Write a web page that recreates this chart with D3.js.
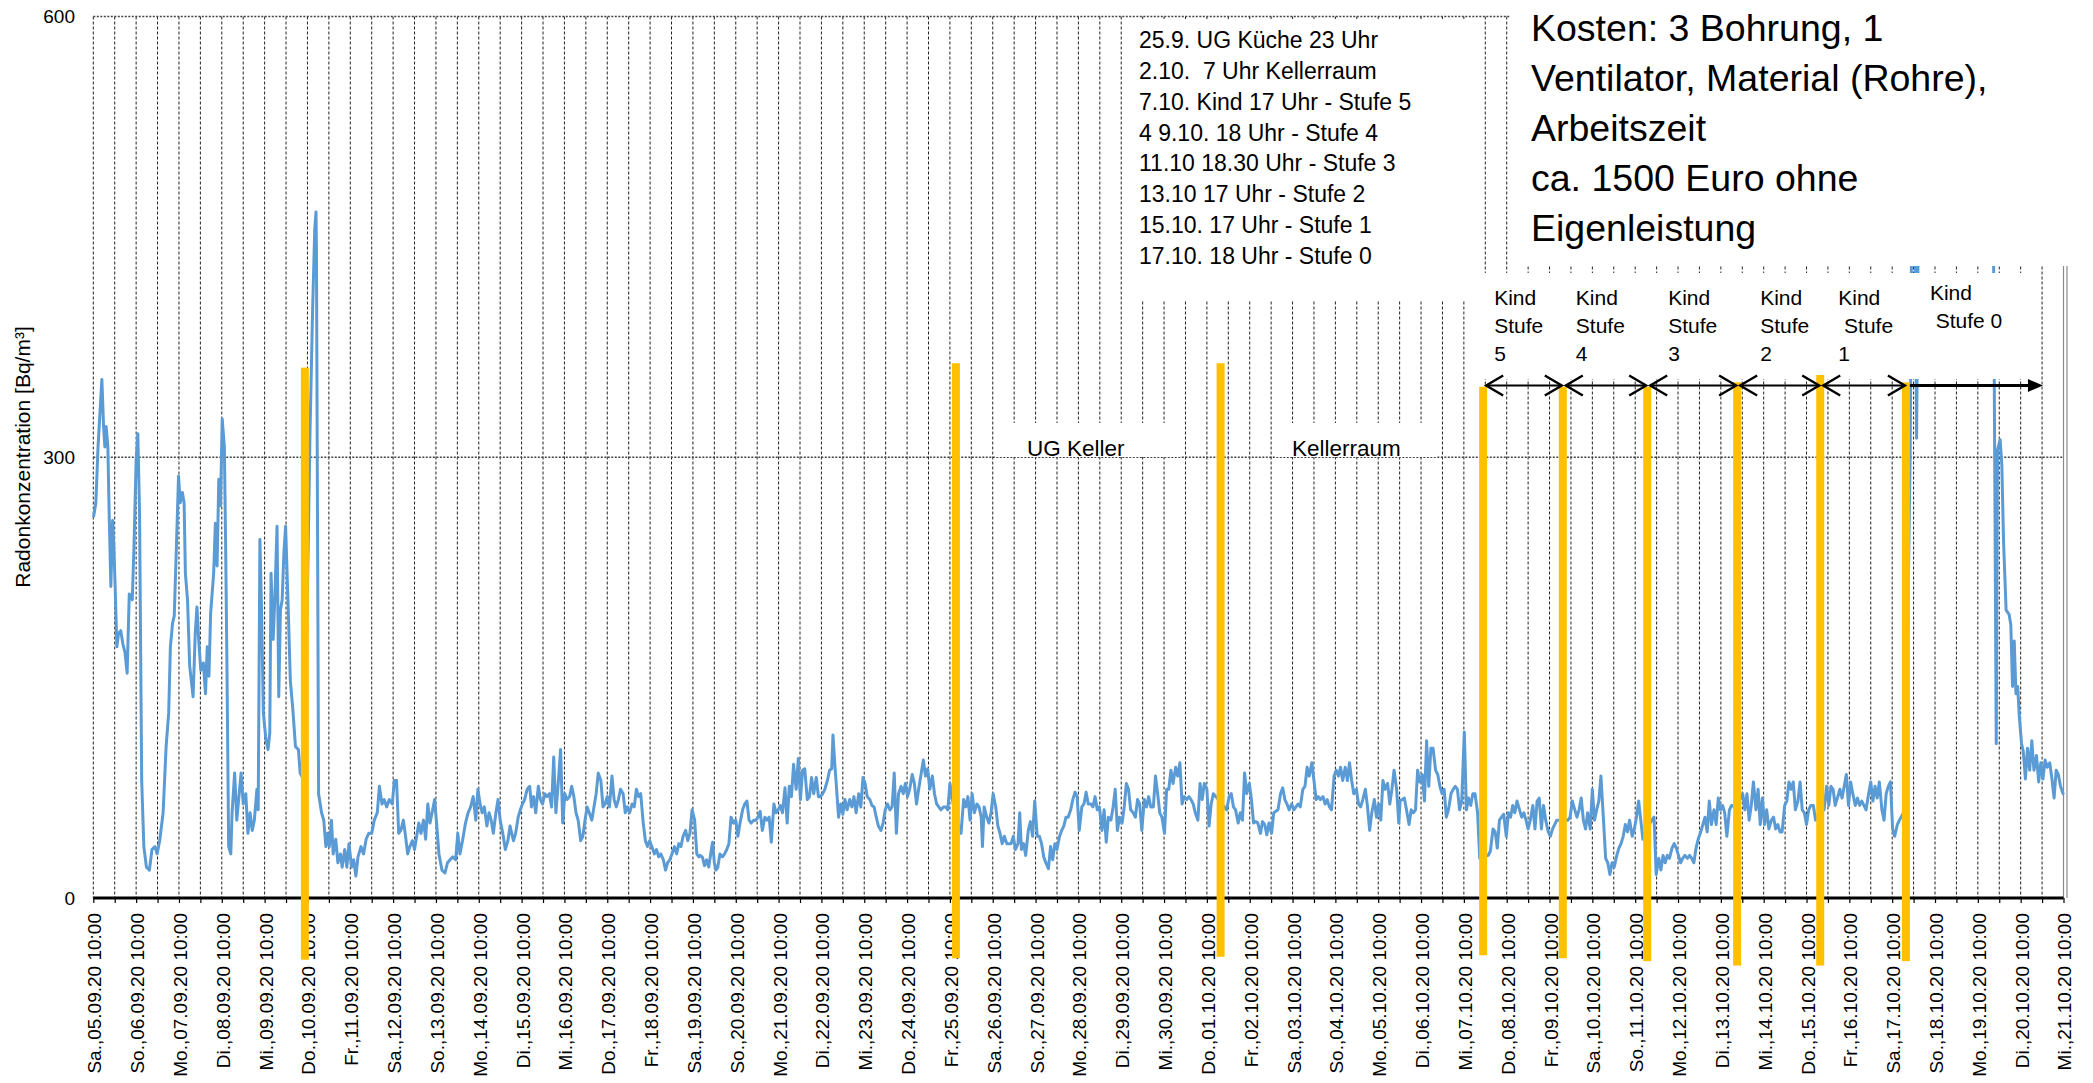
<!DOCTYPE html>
<html><head><meta charset="utf-8">
<script src="https://cdn.jsdelivr.net/npm/d3@7"></script>
<style>
html,body{margin:0;padding:0;background:#fff;}
svg{display:block;font-family:"Liberation Sans",Arial,sans-serif;}
text{white-space:pre;}
</style></head><body>
<svg id="chart" width="2093" height="1083"></svg>
<script>
// ---------------- DATA ----------------
const startUTC = Date.UTC(2020, 8, 5, 10, 0);   // Sa., 05.09.20 10:00
const endUTC   = Date.UTC(2020, 9, 21, 10, 0);  // Mi., 21.10.20 10:00
const weekdayShort = ["So.","Mo.","Di.","Mi.","Do.","Fr.","Sa."];
const yTicks = [0, 300, 600];
const yTitle = "Radonkonzentration [Bq/m³]";

// radon readings: [days since start, Bq/m³]
const radon = [
[0.01,260],[0.06,269],[0.11,307],[0.20,353],[0.24,321],[0.27,307],[0.30,321],[0.34,307],[0.37,262],[0.41,212],[0.45,257],[0.48,239],[0.51,212],[0.55,171],[0.59,180],[0.64,182],[0.69,173],[0.74,167],[0.79,153],[0.84,207],[0.91,203],[0.95,239],[1.00,298],[1.04,316],[1.08,262],[1.13,80],[1.18,35],[1.24,21],[1.31,19],[1.37,33],[1.44,35],[1.49,30],[1.55,39],[1.63,58],[1.70,103],[1.76,126],[1.80,171],[1.85,187],[1.89,192],[1.94,239],[1.99,287],[2.03,269],[2.08,276],[2.12,269],[2.15,221],[2.20,203],[2.25,158],[2.33,137],[2.38,180],[2.42,198],[2.46,176],[2.51,155],[2.57,160],[2.62,139],[2.66,171],[2.70,151],[2.74,194],[2.81,221],[2.85,255],[2.89,226],[2.93,285],[2.97,267],[3.01,326],[3.06,307],[3.09,239],[3.12,160],[3.16,35],[3.21,30],[3.24,58],[3.30,85],[3.35,53],[3.40,69],[3.45,85],[3.50,64],[3.56,71],[3.61,44],[3.66,58],[3.71,46],[3.76,53],[3.82,74],[3.85,60],[3.89,244],[3.93,194],[3.97,126],[4.03,108],[4.08,101],[4.12,112],[4.15,221],[4.20,176],[4.24,205],[4.29,253],[4.33,137],[4.37,196],[4.41,203],[4.45,235],[4.49,253],[4.55,198],[4.60,148],[4.66,128],[4.72,103],[4.79,101],[4.83,85],[4.92,80],[5.02,244],[5.06,317],[5.12,400],[5.17,455],[5.20,467],[5.21,440],[5.26,71],
[5.33,58],[5.38,53],[5.43,35],[5.46,44],[5.51,35],[5.56,53],[5.60,30],[5.66,40],[5.71,24],[5.77,30],[5.81,21],[5.87,33],[5.92,21],[5.97,37],[6.03,21],[6.08,26],[6.13,15],[6.18,28],[6.25,35],[6.31,30],[6.37,40],[6.43,44],[6.50,44],[6.56,53],[6.63,58],[6.68,76],[6.74,64],[6.79,67],[6.85,62],[6.91,67],[6.98,64],[7.03,80],[7.08,80],[7.13,44],[7.18,46],[7.24,53],[7.29,42],[7.34,30],[7.39,35],[7.45,39],[7.50,33],[7.55,42],[7.60,51],[7.65,44],[7.71,53],[7.76,40],[7.81,64],[7.86,51],[7.91,58],[7.97,67],[8.02,49],[8.07,30],[8.14,19],[8.21,17],[8.27,24],[8.33,26],[8.39,28],[8.46,26],[8.51,44],[8.56,30],[8.62,39],[8.69,51],[8.75,58],[8.81,62],[8.87,69],[8.93,53],[8.98,74],[9.03,64],[9.08,58],[9.13,62],[9.19,49],[9.24,58],[9.29,53],[9.34,44],[9.40,58],[9.45,67],[9.50,53],[9.56,44],[9.62,33],[9.68,39],[9.73,49],[9.81,39],[9.86,44],[9.92,55],[9.97,60],[10.02,64],[10.07,67],[10.13,74],[10.19,76],[10.23,62],[10.28,69],[10.33,58],[10.39,76],[10.44,67],[10.49,64],[10.54,71],[10.59,69],[10.65,71],[10.70,62],[10.75,96],[10.80,58],[10.85,76],[10.91,101],[10.96,51],[11.01,71],[11.06,67],[11.12,69],[11.17,76],[11.22,69],[11.27,58],[11.32,53],[11.38,39],[11.43,42],[11.48,53],[11.53,62],[11.58,58],[11.64,53],[11.69,62],[11.74,71],[11.79,85],[11.85,80],[11.90,62],[11.95,64],[12.00,69],[12.05,62],[12.11,83],[12.16,67],[12.21,62],[12.26,67],[12.31,74],[12.37,71],[12.42,58],[12.47,62],[12.52,58],[12.58,64],[12.63,62],[12.68,74],[12.73,69],[12.78,71],[12.84,51],[12.89,39],[12.94,35],[12.99,39],[13.04,35],[13.10,30],[13.15,33],[13.20,28],[13.25,30],[13.31,26],[13.36,19],[13.41,24],[13.46,26],[13.51,30],[13.57,35],[13.62,30],[13.67,37],[13.72,35],[13.77,42],[13.83,46],[13.88,39],[13.93,44],[13.98,60],[14.04,53],[14.09,30],[14.14,28],
[14.17,29],[14.22,28],[14.27,22],[14.32,26],[14.37,21],[14.43,33],[14.46,38],[14.50,24],[14.54,19],[14.58,21],[14.63,30],[14.69,28],[14.74,30],[14.79,33],[14.84,37],[14.89,55],[14.95,51],[15.00,53],[15.05,42],[15.10,51],[15.16,60],[15.21,64],[15.26,66],[15.31,53],[15.36,51],[15.42,53],[15.47,53],[15.52,55],[15.57,59],[15.62,46],[15.68,55],[15.73,53],[15.78,55],[15.83,38],[15.89,64],[15.94,58],[15.99,60],[16.04,63],[16.09,58],[16.15,75],[16.20,51],[16.25,76],[16.30,69],[16.35,91],[16.41,74],[16.46,95],[16.51,67],[16.56,87],[16.61,88],[16.67,67],[16.72,69],[16.77,82],[16.82,71],[16.88,82],[16.93,69],[16.98,69],[17.03,71],[17.08,74],[17.14,80],[17.19,87],[17.24,88],[17.27,111],[17.31,92],[17.34,80],[17.40,55],[17.45,64],[17.50,57],[17.55,67],[17.60,60],[17.66,67],[17.71,62],[17.76,69],[17.81,58],[17.87,71],[17.92,62],[17.97,82],[18.02,78],[18.07,69],[18.13,67],[18.18,63],[18.23,62],[18.28,55],[18.33,49],[18.39,46],[18.44,51],[18.49,60],[18.54,64],[18.60,60],[18.65,62],[18.70,85],[18.75,44],[18.80,71],[18.86,76],[18.91,71],[18.96,78],[19.01,69],[19.06,74],[19.12,84],[19.17,78],[19.22,64],[19.27,74],[19.32,83],[19.38,94],[19.43,83],[19.48,88],[19.53,74],[19.59,83],[19.64,71],[19.69,64],[19.74,62],[19.79,60],[19.85,62],[19.90,62],[19.95,60],[20.00,78],[20.10,60],[20.26,44],[20.32,67],[20.37,62],[20.42,69],[20.47,53],[20.52,71],[20.57,58],[20.63,64],[20.68,62],[20.73,55],[20.76,35],[20.80,62],[20.86,55],[20.91,51],[20.96,58],[21.01,71],[21.07,62],[21.12,49],[21.17,44],[21.22,37],[21.27,42],[21.33,37],[21.38,37],[21.43,37],[21.48,42],[21.53,33],[21.59,37],[21.63,58],[21.67,33],[21.72,37],[21.77,29],[21.83,46],[21.88,52],[21.93,42],[21.98,66],[22.04,42],[22.09,42],[22.14,37],[22.19,28],[22.24,24],[22.30,20],[22.35,35],[22.40,26],[22.45,37],[22.50,33],[22.56,42],[22.61,46],[22.66,49],[22.71,55],[22.76,55],[22.82,60],[22.87,67],[22.92,72],[22.97,69],[23.02,46],[23.08,62],[23.13,64],[23.18,72],[23.23,64],[23.29,64],[23.34,62],[23.39,69],[23.44,60],[23.49,62],[23.55,46],[23.60,60],[23.65,38],[23.70,55],[23.76,53],[23.81,62],[23.86,74],[23.91,46],[23.96,55],[24.02,51],[24.07,62],[24.12,78],[24.17,74],[24.22,60],[24.28,58],[24.33,55],[24.38,67],[24.43,64],[24.48,46],[24.54,67],[24.59,62],[24.64,69],[24.69,62],[24.75,62],[24.80,83],[24.85,71],[24.90,58],[24.95,55],[25.01,44],[25.06,74],[25.11,74],[25.16,87],[25.21,78],[25.27,89],[25.32,83],[25.37,92],[25.42,64],[25.47,69],[25.53,67],[25.58,69],[25.63,67],[25.68,64],[25.73,58],[25.79,53],[25.84,78],[25.89,67],[25.94,78],[26.00,74],[26.05,49],[26.10,64],[26.15,71],[26.30,66],[26.46,60],[26.52,69],[26.57,71],[26.62,62],[26.67,60],[26.73,51],[26.78,58],[26.83,53],[26.88,85],[26.93,71],[26.99,78],[27.04,67],[27.09,51],[27.14,52],[27.19,51],[27.25,44],[27.30,52],[27.35,50],[27.40,43],[27.45,51],[27.51,44],[27.56,58],[27.61,59],[27.66,60],[27.72,71],[27.77,75],[27.82,67],[27.87,64],[27.92,60],[27.98,64],[28.03,60],[28.08,62],[28.13,64],[28.18,62],[28.24,74],[28.29,76],[28.34,89],[28.39,83],[28.45,92],[28.50,80],[28.55,67],[28.60,69],[28.65,67],[28.71,69],[28.76,64],[28.81,67],[28.86,62],[28.91,60],[28.97,83],[29.02,87],[29.07,83],[29.12,89],[29.17,80],[29.23,89],[29.28,80],[29.33,92],[29.38,80],[29.43,71],[29.49,74],[29.54,64],[29.59,62],[29.64,67],[29.70,74],[29.75,62],[29.80,46],[29.85,58],[29.91,67],[29.96,55],[30.01,64],[30.06,53],[30.11,80],[30.16,74],[30.22,78],[30.27,64],[30.32,74],[30.37,87],[30.43,74],[30.48,51],
[30.51,66],[30.56,67],[30.61,68],[30.66,60],[30.72,50],[30.77,60],[30.82,58],[30.87,60],[30.92,87],[30.97,79],[31.03,84],[31.08,66],[31.13,107],[31.18,76],[31.23,102],[31.28,102],[31.34,87],[31.39,84],[31.44,76],[31.49,71],[31.54,74],[31.59,55],[31.64,60],[31.70,71],[31.75,74],[31.80,76],[31.85,74],[31.90,60],[31.95,66],[32.01,113],[32.06,60],[32.11,68],[32.16,63],[32.21,71],[32.26,71],[32.32,58],[32.37,27],[32.45,28],[32.57,29],[32.62,32],[32.68,47],[32.73,45],[32.78,34],[32.83,53],[32.88,55],[32.93,57],[32.99,42],[33.04,58],[33.09,55],[33.14,63],[33.19,58],[33.24,66],[33.30,60],[33.35,55],[33.40,58],[33.45,53],[33.50,47],[33.55,53],[33.61,63],[33.66,47],[33.71,66],[33.76,68],[33.81,47],[33.86,63],[33.91,53],[33.97,45],[34.02,42],[34.07,47],[34.12,50],[34.17,53],[34.30,53],[34.43,53],[34.48,55],[34.53,66],[34.59,60],[34.64,55],[34.69,60],[34.74,68],[34.79,53],[34.84,47],[34.89,58],[34.95,47],[35.00,74],[35.05,53],[35.10,60],[35.15,66],[35.20,83],[35.26,53],[35.31,27],[35.36,24],[35.41,16],[35.46,24],[35.51,21],[35.57,29],[35.62,34],[35.67,37],[35.72,42],[35.77,50],[35.82,45],[35.87,53],[35.93,42],[35.98,47],[36.03,55],[36.08,66],[36.13,53],[36.18,40],[36.28,48],[36.39,53],[36.44,55],[36.49,16],[36.55,27],[36.60,19],[36.65,29],[36.70,24],[36.75,29],[36.80,27],[36.86,34],[36.91,37],[36.96,34],[37.01,29],[37.06,24],[37.11,27],[37.16,29],[37.22,27],[37.27,29],[37.32,27],[37.37,24],[37.42,34],[37.47,40],[37.53,45],[37.58,50],[37.63,55],[37.68,45],[37.73,66],[37.78,50],[37.84,60],[37.89,50],[37.94,68],[37.99,60],[38.04,63],[38.09,58],[38.14,42],[38.20,60],[38.25,63],[38.37,62],[38.51,71],[38.56,60],[38.61,71],[38.66,53],[38.71,63],[38.76,79],[38.82,60],[38.87,74],[38.92,50],[38.97,68],[39.02,50],[39.07,60],[39.12,47],[39.18,53],[39.23,55],[39.28,47],[39.33,50],[39.38,45],[39.43,45],[39.49,63],[39.54,66],[39.59,79],[39.64,74],[39.69,79],[39.74,60],[39.80,66],[39.85,79],[39.90,60],[39.95,58],[40.00,50],[40.05,60],[40.10,63],[40.16,63],[40.21,53],[40.31,58],[40.41,60],[40.47,76],[40.52,63],[40.57,76],[40.62,74],[40.67,63],[40.72,68],[40.78,74],[40.83,68],[40.88,76],[40.93,84],[40.98,63],[41.03,79],[41.08,71],[41.14,63],[41.19,68],[41.24,63],[41.29,66],[41.34,63],[41.39,60],[41.45,71],[41.50,79],[41.55,66],[41.60,76],[41.65,68],[41.70,79],[41.76,60],[41.81,53],[41.86,71],[41.91,76],[41.96,79],[42.01,47],[42.06,42],[42.12,50],[42.17,53],[42.30,60],[42.42,300],[42.46,480],[42.52,520],[42.57,313],[42.62,500],[42.68,545],[43.00,560],[43.50,545],[44.00,555],[44.35,530],[44.43,105],[44.46,305],[44.52,312],[44.56,295],[44.60,243],[44.66,196],[44.73,193],[44.77,186],[44.81,144],[44.85,175],[44.89,139],[44.93,144],[44.97,123],[45.02,105],[45.06,100],[45.11,81],[45.16,102],[45.21,87],[45.26,107],[45.31,87],[45.37,97],[45.42,79],[45.47,92],[45.52,81],[45.57,94],[45.62,89],[45.68,92],[45.73,81],[45.78,68],[45.83,87],[45.88,84],[45.93,76],[45.99,71]
];

// orange event markers (days since start, top / bottom value)
const eventDays   = [4.94, 20.14, 26.32, 32.45, 34.31, 36.28, 38.38, 40.32, 42.32];
const eventTop    = [361, 364, 364, 348, 348, 348, 351, 356, 351];
const eventBottom = [-42, -41, -40, -39, -41, -43, -46, -46, -43];
const stageArrowEndDay = 45.52;

const legendLines = ["25.9. UG Küche 23 Uhr","2.10.  7 Uhr Kellerraum","7.10. Kind 17 Uhr - Stufe 5","4 9.10. 18 Uhr - Stufe 4","11.10 18.30 Uhr - Stufe 3","13.10 17 Uhr - Stufe 2","15.10. 17 Uhr - Stufe 1","17.10. 18 Uhr - Stufe 0"];
const costLines = ["Kosten: 3 Bohrung, 1","Ventilator, Material (Rohre),","Arbeitszeit","ca. 1500 Euro ohne","Eigenleistung"];
const stageLabels = [["Kind","Stufe","5"],["Kind","Stufe","4"],["Kind","Stufe","3"],["Kind","Stufe","2"],["Kind"," Stufe","1"],["Kind"," Stufe 0"]];
const roomLabels = ["UG Keller","Kellerraum"];

// ---------------- LAYOUT ----------------
const W = 2093, H = 1083;
const plot = {left: 93.3, right: 2063.5, top: 16.5, bottom: 898};
const DAY = 86400000;
const dayToDate = d => new Date(startUTC + d * DAY);

const svg = d3.select("#chart");
svg.append("rect").attr("width", W).attr("height", H).attr("fill", "#fff");

const x = d3.scaleUtc().domain([new Date(startUTC), new Date(endUTC)]).range([plot.left, plot.right]);
const y = d3.scaleLinear().domain([0, 600]).range([plot.bottom, plot.top]);

const locale = d3.timeFormatLocale({
  dateTime: "%A, der %e. %B %Y, %X", date: "%d.%m.%Y", time: "%H:%M:%S",
  periods: ["AM","PM"],
  days: ["Sonntag","Montag","Dienstag","Mittwoch","Donnerstag","Freitag","Samstag"],
  shortDays: weekdayShort,
  months: ["Januar","Februar","März","April","Mai","Juni","Juli","August","September","Oktober","November","Dezember"],
  shortMonths: ["Jan","Feb","Mär","Apr","Mai","Jun","Jul","Aug","Sep","Okt","Nov","Dez"]
});
const fmt = locale.utcFormat("%a,%d.%m.%y %H:%M");

// ticks every 12 h, labels every 24 h
const tickDates = d3.range(0, (endUTC - startUTC) / (DAY / 2) + 1).map(i => new Date(startUTC + i * DAY / 2));
const labelDates = tickDates.filter((d, i) => i % 2 === 0);

// gridlines
const grid = svg.append("g");
grid.selectAll("line.v").data(tickDates).join("line")
  .attr("x1", d => x(d)).attr("x2", d => x(d))
  .attr("y1", plot.top).attr("y2", plot.bottom)
  .attr("stroke", "#222").attr("stroke-width", 1).attr("stroke-dasharray", "3,2");
grid.selectAll("line.h").data(yTicks.filter(v => v > 0)).join("line")
  .attr("x1", plot.left).attr("x2", plot.right)
  .attr("y1", d => y(d)).attr("y2", d => y(d))
  .attr("stroke", "#444").attr("stroke-width", 1.5).attr("stroke-dasharray", "2,1.5");
// right border (double gray line)
[plot.right, plot.right + 3.5].forEach(px => {
  grid.append("line").attr("x1", px).attr("x2", px).attr("y1", plot.top).attr("y2", plot.bottom)
    .attr("stroke", "#8a8a8a").attr("stroke-width", 1.2);
});

// data line
const line = d3.line().x(p => x(dayToDate(p[0]))).y(p => y(p[1]));
svg.append("path").datum(radon).attr("d", line)
  .attr("fill", "none").attr("stroke", "#5B9BD5").attr("stroke-width", 3)
  .attr("stroke-linejoin", "round").attr("stroke-linecap", "round");

// x axis
const xAxis = d3.axisBottom(x).tickValues(tickDates).tickSize(5).tickFormat(() => "");
const gx = svg.append("g").attr("transform", `translate(0,${plot.bottom})`).call(xAxis);
gx.select(".domain").attr("stroke", "#000").attr("stroke-width", 2.8).attr("d", `M${plot.left},0H${plot.right}`);
gx.selectAll(".tick line").attr("stroke", "#000").attr("stroke-width", 1.2);
svg.append("g").selectAll("text").data(labelDates).join("text")
  .attr("transform", d => `translate(${x(d)},${plot.bottom + 15}) rotate(-90)`)
  .attr("text-anchor", "end").attr("dy", "0.42em")
  .attr("font-size", 19).attr("fill", "#000")
  .text(d => fmt(d));

// y axis labels
svg.append("g").selectAll("text").data(yTicks).join("text")
  .attr("x", 75).attr("y", d => y(d)).attr("dy", "0.36em")
  .attr("text-anchor", "end").attr("font-size", 19).text(d => d);
svg.append("text").attr("transform", `translate(30,457) rotate(-90)`)
  .attr("text-anchor", "middle").attr("font-size", 21).text(yTitle);

// white annotation boxes
const boxes = [
  {x: 1123, y: 19, w: 358, h: 281},     // legend box
  {x: 1510, y: 0, w: 583, h: 266},      // cost text box
  {x: 1480, y: 273, w: 555, h: 106},    // stage labels box
  {x: 996, y: 423, w: 184, h: 34},      // UG Keller
  {x: 1276, y: 423, w: 161, h: 34}      // Kellerraum
];
svg.append("g").selectAll("rect").data(boxes).join("rect")
  .attr("x", d => d.x).attr("y", d => d.y).attr("width", d => d.w).attr("height", d => d.h)
  .attr("fill", "#fff");

// orange event bars
const barW = 8;
svg.append("g").selectAll("rect").data(eventDays).join("rect")
  .attr("x", (d) => x(dayToDate(d)) - barW / 2)
  .attr("y", (d, i) => y(eventTop[i]))
  .attr("width", barW)
  .attr("height", (d, i) => y(eventBottom[i]) - y(eventTop[i]))
  .attr("fill", "#FFC000");

// texts
const tg = svg.append("g").attr("fill", "#000");
tg.selectAll("text.leg").data(legendLines).join("text").attr("class", "leg")
  .attr("x", 1139).attr("y", (d, i) => 48 + i * 30.85).attr("font-size", 23).text(d => d);
const costWidths = [342, 485, null, null, null];
tg.selectAll("text.cost").data(costLines).join("text").attr("class", "cost")
  .attr("x", 1531).attr("y", (d, i) => 41 + i * 50).attr("font-size", 37.5).text(d => d);
const roomX = [1027, 1292];
tg.selectAll("text.room").data(roomLabels).join("text").attr("class", "room")
  .attr("x", (d, i) => roomX[i]).attr("y", 456).attr("font-size", 22.5).text(d => d);

// stage labels + arrows
const stageDx = [11, 13, 21, 23, 18, 24];
const stageStart = eventDays.slice(3);
stageLabels.forEach((lines, i) => {
  const bx = x(dayToDate(stageStart[i])) + stageDx[i];
  const y0 = i === 5 ? 300 : 305;
  lines.forEach((t, j) => {
    tg.append("text").attr("x", bx).attr("y", y0 + j * 28).attr("font-size", 21).text(t);
  });
});
const arrowY = 385.5;
const ag = svg.append("g").attr("stroke", "#000").attr("fill", "none");
for (let i = 0; i < 5; i++) {
  const x1 = x(dayToDate(stageStart[i])) + 3;
  const x2 = x(dayToDate(stageStart[i + 1])) - 1;
  ag.append("line").attr("x1", x1).attr("x2", x2).attr("y1", arrowY).attr("y2", arrowY).attr("stroke-width", 2);
  ag.append("path").attr("d", `M${x1 + 17},${arrowY - 10}L${x1},${arrowY}L${x1 + 17},${arrowY + 10}`).attr("stroke-width", 2.4);
  ag.append("path").attr("d", `M${x2 - 17},${arrowY - 10}L${x2},${arrowY}L${x2 - 17},${arrowY + 10}`).attr("stroke-width", 2.4);
}
{
  const x1 = x(dayToDate(stageStart[5])) + 4;
  const x2 = x(dayToDate(stageArrowEndDay));
  ag.append("line").attr("x1", x1).attr("x2", x2 - 10).attr("y1", arrowY).attr("y2", arrowY).attr("stroke-width", 3);
  ag.append("path").attr("d", `M${x2 - 15},${arrowY - 6.5}L${x2},${arrowY}L${x2 - 15},${arrowY + 6.5}Z`)
    .attr("fill", "#000").attr("stroke", "none");
}
</script>
</body></html>
